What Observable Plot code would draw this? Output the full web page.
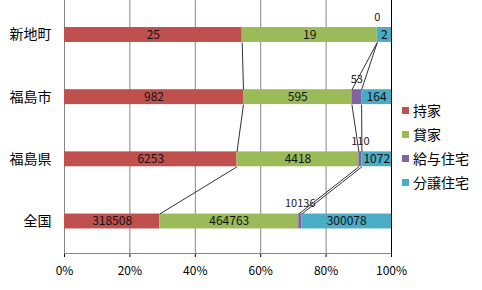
<!DOCTYPE html>
<html>
<head>
<meta charset="utf-8">
<script src="https://cdn.jsdelivr.net/npm/d3@7"></script>
<script src="https://cdn.jsdelivr.net/npm/@observablehq/plot@0.6"></script>
<style>
  html, body { margin: 0; padding: 0; background: #fff; }
  #wrap { position: relative; width: 482px; height: 290px; font-family: "Noto Sans CJK JP", "DejaVu Sans", sans-serif; }
  #legend { position: absolute; left: 402px; top: 98px; }
  .item { display: flex; align-items: center; height: 24px; font-size: 14px; color: #000; }
  .sw { width: 7px; height: 7px; margin-right: 4px; }
  [aria-label^="y-axis"] text { font-size: 14px; }
  [aria-label^="x-axis"] text { font-size: 12px; }
</style>
</head>
<body>
<div id="wrap"><div id="chart"></div><div id="legend"></div></div>
<script>
const categories = ["新地町", "福島市", "福島県", "全国"];
const seriesNames = ["持家", "貸家", "給与住宅", "分譲住宅"];
const ownedValues = [25, 982, 6253, 318508];
const rentedValues = [19, 595, 4418, 464763];
const companyValues = [0, 53, 110, 10136];
const condoValues = [2, 164, 1072, 300078];
const xTickValues = [0, 0.2, 0.4, 0.6, 0.8, 1];
const seriesColors = ["#C0504D", "#9BBB59", "#8064A2", "#4BACC6"];

const seriesData = [ownedValues, rentedValues, companyValues, condoValues];
const half = 0.12;
const yTop = -0.555, yBottom = 3.515;

const rows = [];
const ends = [];
categories.forEach((c, i) => {
  const total = d3.sum(seriesData, s => s[i]);
  let cum = 0;
  ends[i] = [];
  seriesData.forEach((s, j) => {
    const x1 = cum / total;
    cum += s[i];
    const x2 = cum / total;
    ends[i][j] = x2;
    rows.push({i, cat: c, series: seriesNames[j], value: s[i], label: String(s[i]), x1, x2, small: (x2 - x1) < 0.03});
  });
});
const links = [];
for (let j = 0; j < seriesNames.length - 1; j++) {
  for (let i = 0; i < categories.length - 1; i++) {
    links.push({x1: ends[i][j], y1: i + half, x2: ends[i + 1][j], y2: i + 1 - half});
  }
}

const chart = Plot.plot({
  width: 482,
  height: 290,
  marginLeft: 64,
  marginRight: 91,
  marginTop: 0,
  marginBottom: 37,
  style: {fontFamily: "'Noto Sans CJK JP', 'DejaVu Sans', sans-serif", fontSize: "12px", color: "#000", background: "#fff"},
  x: {domain: [0, 1], ticks: xTickValues, tickFormat: d3.format(".0%"), tickSize: 4, tickPadding: 9, label: null},
  y: {domain: [yTop, yBottom], reverse: true, ticks: [0, 1, 2, 3], tickFormat: i => categories[i], tickSize: 0, tickPadding: 13, label: null},
  color: {domain: seriesNames, range: seriesColors},
  marks: [
    Plot.ruleX(xTickValues.slice(1, -1), {stroke: "#868686", strokeWidth: 1}),
    Plot.ruleX([0], {stroke: "#868686"}),
    Plot.ruleY([yBottom], {stroke: "#868686"}),
    Plot.rectX(rows, {x1: "x1", x2: "x2", y1: d => d.i - half, y2: d => d.i + half, fill: "series"}),
    Plot.link(links, {x1: "x1", y1: "y1", x2: "x2", y2: "y2", stroke: "#333", strokeWidth: 1}),
    Plot.ruleX([1], {stroke: "#000", strokeWidth: 1}),
    Plot.text(rows.filter(d => !d.small), {x: d => (d.x1 + d.x2) / 2, y: "i", text: "label", fill: "#111", fontSize: 12}),
    Plot.text(rows.filter(d => d.small), {x: d => (d.x1 + d.x2) / 2, y: "i", text: "label", fill: "#222", fontSize: 11, dy: -18})
  ]
});
document.getElementById("chart").appendChild(chart);

const legend = document.getElementById("legend");
seriesNames.forEach((n, j) => {
  const it = document.createElement("div");
  it.className = "item";
  it.innerHTML = `<span class="sw" style="background:${seriesColors[j]}"></span><span>${n}</span>`;
  legend.appendChild(it);
});
</script>
</body>
</html>
